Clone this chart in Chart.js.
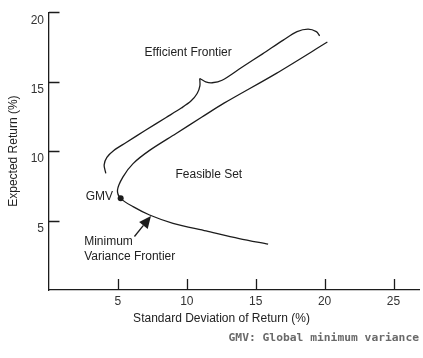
<!DOCTYPE html>
<html>
<head>
<meta charset="utf-8">
<script src="https://cdn.jsdelivr.net/npm/chart.js@4.4.1/dist/chart.umd.min.js"></script>
<style>
  html, body { margin: 0; padding: 0; background: #fff; }
</style>
</head>
<body>
<canvas id="chart" width="423" height="358"></canvas>
<script>
// minimum variance frontier (std dev %, return %)
const frontierSd  = [20.2, 16.5, 12.7, 11.1, 9.2, 7.3, 6.1, 5.37, 4.97, 5.2, 6.1, 7.3, 9.0, 11.4, 13.8, 15.9];
const frontierRet = [17.85, 15.6, 13.45, 12.45, 11.25, 10.05, 9.1, 8.15, 7.2, 6.6, 6.0, 5.4, 4.8, 4.25, 3.7, 3.3];

// brace over the efficient part, split at the cusp so it stays sharp
const braceLeftSd  = [4.12, 4.0, 4.2, 4.7, 5.6, 7.0, 8.5, 9.6, 10.3, 10.75, 10.95, 10.94];
const braceLeftRet = [8.4, 9.0, 9.55, 10.05, 10.62, 11.5, 12.42, 13.1, 13.6, 14.15, 14.7, 15.23];
const braceRightSd  = [10.94, 11.37, 11.84, 12.56, 14.0, 15.5, 17.0, 18.0, 18.8, 19.4, 19.64];
const braceRightRet = [15.23, 14.99, 14.92, 15.1, 16.04, 17.0, 17.99, 18.6, 18.78, 18.6, 18.3];

// global minimum variance portfolio
const gmvSd  = [5.2];
const gmvRet = [6.6];

const xTicks = [5, 10, 15, 20, 25];
const yTicks = [5, 10, 15, 20];

// text and arrow annotations, placed in data units
const notes = [
  { text: 'Efficient Frontier', x: 10.1, y: 17.1, align: 'center' },
  { text: 'Feasible Set', x: 11.6, y: 8.27, align: 'center' },
  { text: 'GMV', x: 4.65, y: 6.71, align: 'right' },
  { text: 'Minimum', x: 2.55, y: 3.47, align: 'left' },
  { text: 'Variance Frontier', x: 2.55, y: 2.4, align: 'left' }
];
const arrow = { from: [6.2, 3.85], to: [7.4, 5.32] };

const ink = '#1c1c1c';
const zip = (xs, ys) => xs.map((x, i) => ({ x: x, y: ys[i] }));

function curve(xs, ys) {
  return {
    data: zip(xs, ys),
    showLine: true,
    borderColor: ink,
    borderWidth: 1.3,
    pointRadius: 0,
    tension: 0.3,
    fill: false
  };
}

const decorations = {
  id: 'decorations',
  afterDraw(chart) {
    const ctx = chart.ctx;
    const xs = chart.scales.x, ys = chart.scales.y;
    const area = chart.chartArea;
    ctx.save();

    // inward tick marks
    ctx.strokeStyle = ink;
    ctx.lineWidth = 1.3;
    ctx.beginPath();
    xTicks.forEach(v => {
      const px = Math.round(xs.getPixelForValue(v)) + 0.5;
      ctx.moveTo(px, area.bottom);
      ctx.lineTo(px, area.bottom - 11);
    });
    yTicks.forEach(v => {
      const py = Math.round(ys.getPixelForValue(v)) + 0.5;
      ctx.moveTo(area.left, py);
      ctx.lineTo(area.left + 10.5, py);
    });
    ctx.stroke();

    // labels in the plot
    ctx.fillStyle = '#222';
    ctx.font = '12px "Liberation Sans", Arial, sans-serif';
    ctx.textBaseline = 'middle';
    notes.forEach(n => {
      ctx.textAlign = n.align;
      ctx.fillText(n.text, xs.getPixelForValue(n.x), ys.getPixelForValue(n.y));
    });

    // arrow to the lower branch
    const x1 = xs.getPixelForValue(arrow.from[0]), y1 = ys.getPixelForValue(arrow.from[1]);
    const x2 = xs.getPixelForValue(arrow.to[0]), y2 = ys.getPixelForValue(arrow.to[1]);
    const ang = Math.atan2(y2 - y1, x2 - x1);
    const headLen = 12, headW = 5.5;
    const bx = x2 - headLen * Math.cos(ang), by = y2 - headLen * Math.sin(ang);
    ctx.beginPath();
    ctx.moveTo(x1, y1);
    ctx.lineTo(bx, by);
    ctx.stroke();
    ctx.beginPath();
    ctx.moveTo(x2, y2);
    ctx.lineTo(bx + headW * Math.sin(ang), by - headW * Math.cos(ang));
    ctx.lineTo(bx - headW * Math.sin(ang), by + headW * Math.cos(ang));
    ctx.closePath();
    ctx.fillStyle = ink;
    ctx.fill();

    // x axis title (sits left of centre in the original)
    ctx.fillStyle = '#222';
    ctx.textAlign = 'center';
    ctx.fillText('Standard Deviation of Return (%)', 221.5, 319);

    // footnote
    ctx.fillStyle = '#6a6a6a';
    ctx.textAlign = 'right';
    ctx.font = 'bold 11.3px "DejaVu Sans Mono", monospace';
    ctx.fillText('GMV: Global minimum variance', 419, 338);
    ctx.restore();
  }
};

new Chart(document.getElementById('chart'), {
  type: 'scatter',
  data: {
    datasets: [
      curve(frontierSd, frontierRet),
      curve(braceLeftSd, braceLeftRet),
      curve(braceRightSd, braceRightRet),
      {
        data: zip(gmvSd, gmvRet),
        pointRadius: 3,
        pointBackgroundColor: ink,
        pointBorderColor: ink,
        pointBorderWidth: 0
      }
    ]
  },
  options: {
    responsive: false,
    animation: false,
    layout: { padding: { top: 12, right: 1, left: 0, bottom: 0 } },
    plugins: { legend: { display: false }, tooltip: { enabled: false } },
    scales: {
      x: {
        type: 'linear',
        min: 0,
        max: 26.85,
        afterBuildTicks: s => { s.ticks = xTicks.map(v => ({ value: v })); },
        afterFit: s => { s.height = 68; },
        grid: { display: false, drawTicks: false },
        border: { display: true, color: ink, width: 1.3 },
        ticks: { color: '#333', padding: 4, font: { size: 12, family: '"Liberation Sans", Arial, sans-serif' } }
      },
      y: {
        type: 'linear',
        min: 0,
        max: 20,
        afterBuildTicks: s => { s.ticks = yTicks.map(v => ({ value: v })); },
        afterFit: s => { s.width = 49; },
        grid: { display: false, drawTicks: false },
        border: { display: true, color: ink, width: 1.3 },
        ticks: { color: '#333', padding: 5, labelOffset: 8, font: { size: 12, family: '"Liberation Sans", Arial, sans-serif' } },
        title: {
          display: true,
          text: 'Expected Return (%)',
          color: '#222',
          padding: { top: 6, bottom: 0 },
          font: { size: 12, family: '"Liberation Sans", Arial, sans-serif' }
        }
      }
    }
  },
  plugins: [decorations]
});
</script>
</body>
</html>
